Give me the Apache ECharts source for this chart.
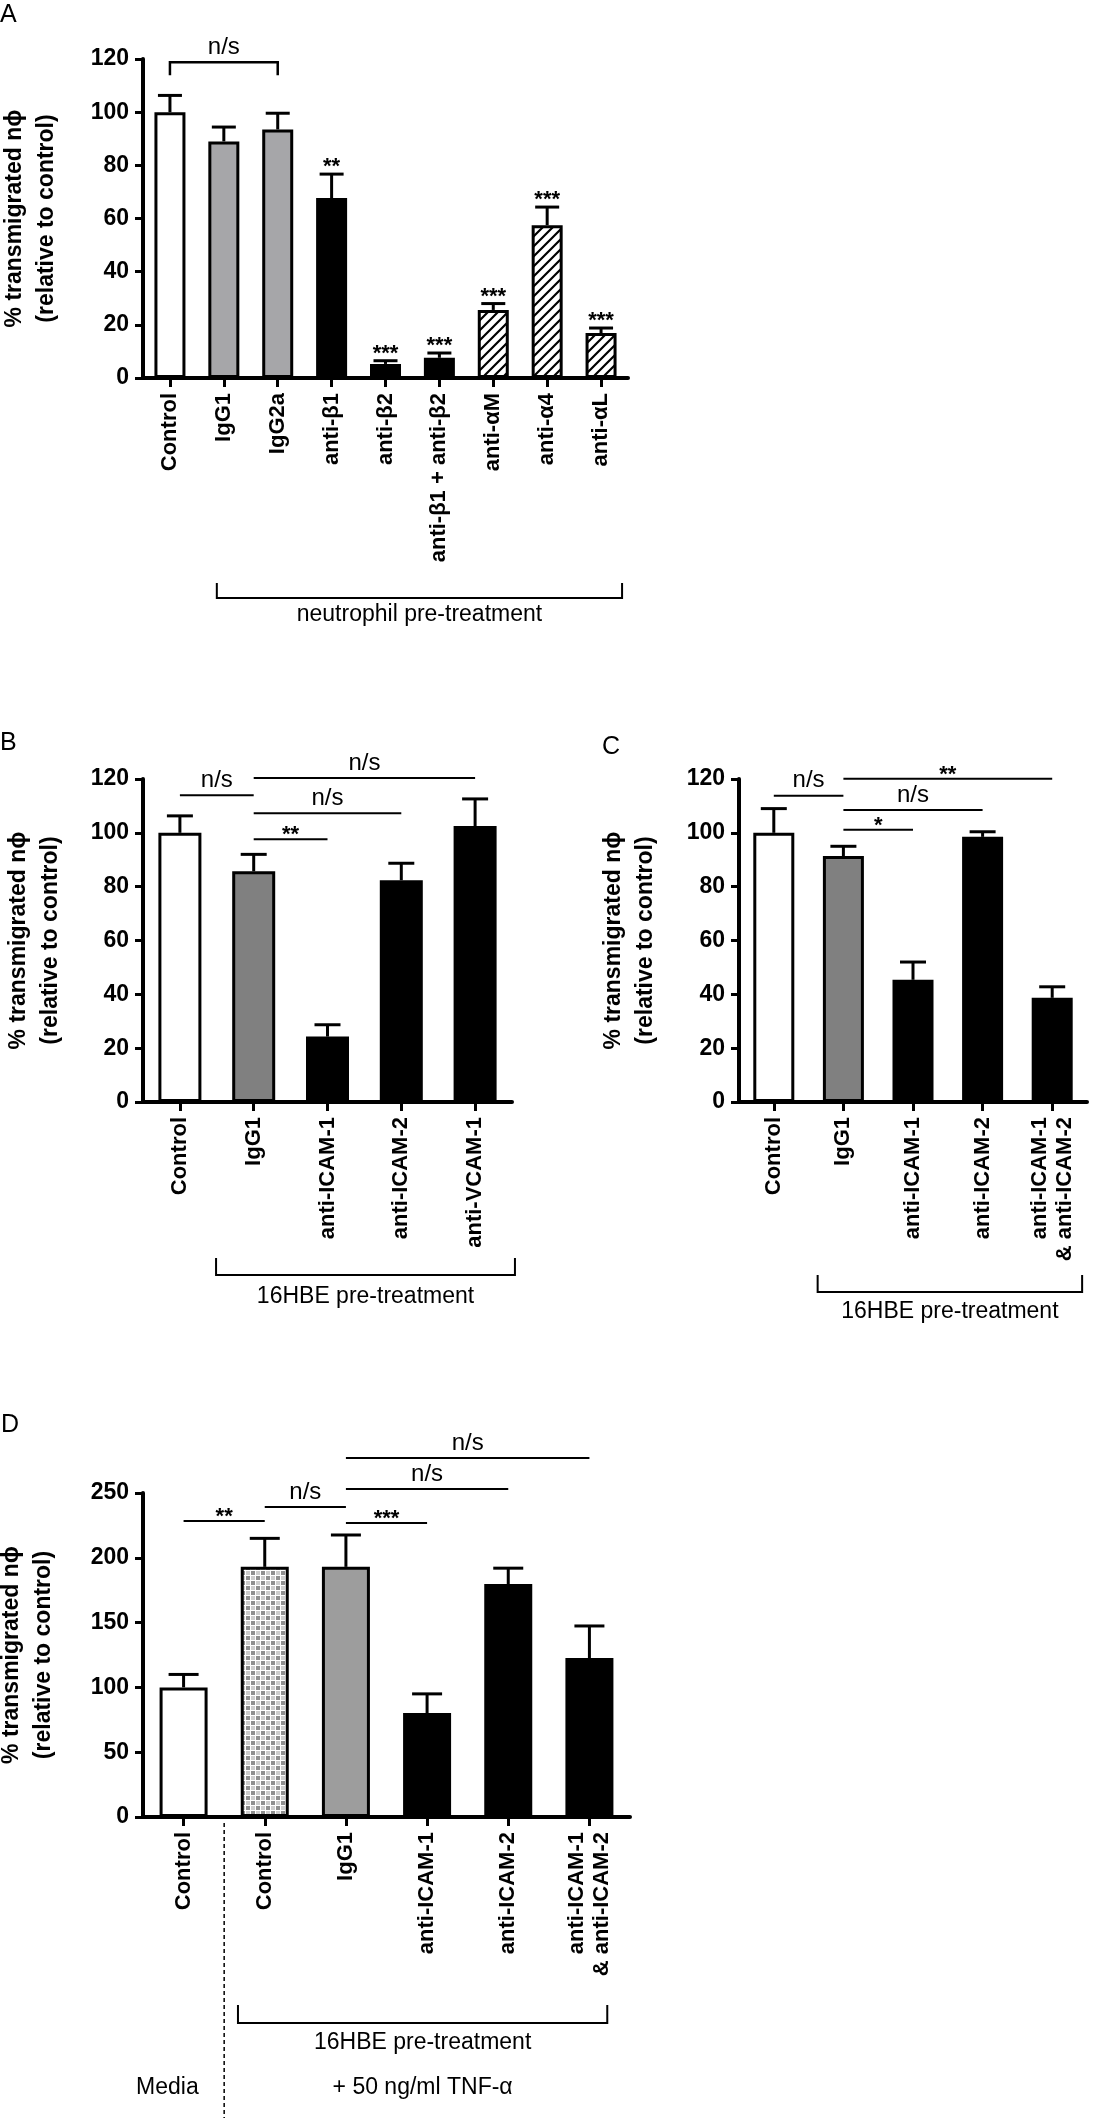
<!DOCTYPE html>
<html><head><meta charset="utf-8">
<script src="https://cdn.jsdelivr.net/npm/echarts@6/dist/echarts.min.js"></script>
<style>html,body{margin:0;padding:0;background:#fff}#c{width:1093px;height:2125px}</style>
</head><body><div id="c"></div>
<script>
// ---------------- DATA ----------------
const catsA = ['Control','IgG1','IgG2a','anti-β1','anti-β2','anti-β1 + anti-β2','anti-αM','anti-α4','anti-αL'];
const meanA = [100, 89, 93.5, 67.7, 5.3, 7.6, 25.6, 57.5, 16.9];
const errA  = [106.3, 94.4, 99.6, 76.7, 6.5, 9.4, 28.0, 64.3, 18.8];
const fillA = ['white','grayA','grayA','black','black','black','hatch','hatch','hatch'];
const starsA = ['', '', '', '**', '***', '***', '***', '***', '***'];
const bracketA = [[0, 2, 118.8]];
const bracketLabelsA = ['n/s'];
const groupA = ['neutrophil pre-treatment', 1, 8];

const catsB = ['Control','IgG1','anti-ICAM-1','anti-ICAM-2','anti-VCAM-1'];
const meanB = [100, 85.7, 24.3, 82.4, 102.5];
const errB  = [106.3, 92.0, 28.7, 88.7, 112.6];
const fillB = ['white','grayB','black','black','black'];
const sigB = [[0,1,114.0],[1,4,120.4],[1,3,107.3],[1,2,97.6]];
const sigLabelsB = ['n/s','n/s','n/s','**'];
const groupB = ['16HBE pre-treatment', 1, 4];

const catsC = ['Control','IgG1','anti-ICAM-1','anti-ICAM-2','anti-ICAM-1\n& anti-ICAM-2'];
const meanC = [100, 91.4, 45.4, 98.5, 38.7];
const errC  = [109.0, 95.0, 52.0, 100.4, 42.8];
const fillC = ['white','grayB','black','black','black'];
const sigC = [[0,1,113.8],[1,4,120.1],[1,3,108.5],[1,2,101.1]];
const sigLabelsC = ['n/s','**','n/s','*'];
const groupC = ['16HBE pre-treatment', 1, 4];

const catsD = ['Control','Control','IgG1','anti-ICAM-1','anti-ICAM-2','anti-ICAM-1\n& anti-ICAM-2'];
const meanD = [100, 193, 193, 80.2, 179.8, 122.7];
const errD  = [110, 215, 217.6, 95, 192, 147.4];
const fillD = ['white','checker','grayD','black','black','black'];
const sigD = [[0,1,228.4],[1,2,239.2],[2,3,226.9],[2,4,253.1],[2,5,277.0]];
const sigLabelsD = ['**','n/s','***','n/s','n/s'];
const groupD = ['16HBE pre-treatment', 1, 5];
const conditionD = ['Media', '+ 50 ng/ml TNF-α'];

const yTitle = '% transmigrated nϕ\n(relative to control)';

// ---------------- STYLE ----------------
const FONT = '"Liberation Sans", Arial, Helvetica, sans-serif';
function makePattern(kind){
  const c = document.createElement('canvas');
  if (kind === 'hatch') {
    c.width = 10; c.height = 10;
    const g = c.getContext('2d');
    g.fillStyle = '#fff'; g.fillRect(0,0,10,10);
    g.strokeStyle = '#000'; g.lineWidth = 2.2;
    g.beginPath();
    g.moveTo(-2,12); g.lineTo(12,-2);
    g.moveTo(-2,2); g.lineTo(2,-2);
    g.moveTo(8,12); g.lineTo(12,8);
    g.stroke();
  } else {
    c.width = 10; c.height = 10;
    const g = c.getContext('2d');
    g.fillStyle = '#ffffff'; g.fillRect(0,0,10,10);
    g.fillStyle = '#8f8f8f'; g.fillRect(1,1,4,4); g.fillRect(6,6,4,4);
    g.fillStyle = '#cdcdcd'; g.fillRect(6,1,4,4); g.fillRect(1,6,4,4);
  }
  return {image: c, repeat: 'repeat'};
}
const FILLS = {
  white: '#ffffff', grayA: '#a6a6a9', grayB: '#808080', grayD: '#9d9d9d', black: '#000000',
  hatch: makePattern('hatch'), checker: makePattern('checker')
};

const LAY = {
  A: {grid:{left:143, top:59, width:485, height:319}, barW:31, cap:24, nameGap:80, extL:-0.13, extR:0.39, drop:220, tick:15, textDrop:237},
  B: {grid:{left:143, top:779, width:369, height:323}, barW:43, cap:26, nameGap:76, extL:-0.51, extR:0.54, drop:173, tick:17, textDrop:195},
  C: {grid:{left:739, top:779, width:348, height:323}, barW:41, cap:26, nameGap:77, extL:-0.37, extR:0.43, drop:190, tick:17, textDrop:210},
  D: {grid:{left:143, top:1493, width:487, height:324}, barW:48, cap:30, nameGap:83, extL:-0.33, extR:0.22, drop:206, tick:18, textDrop:226}
};

// ---------------- RENDERERS ----------------
function errRender(cap){
  return function(params, api){
    const i = api.value(0);
    const p0 = api.coord([i, api.value(1)]);
    const p1 = api.coord([i, api.value(2)]);
    return {type:'group', children:[
      {type:'line', shape:{x1:p0[0], y1:p0[1], x2:p1[0], y2:p1[1]}, style:{stroke:'#000', lineWidth:3}},
      {type:'line', shape:{x1:p1[0]-cap/2, y1:p1[1], x2:p1[0]+cap/2, y2:p1[1]}, style:{stroke:'#000', lineWidth:3}}
    ]};
  };
}
function starRender(labels){
  return function(params, api){
    const p = api.coord([api.value(0), api.value(1)]);
    return {type:'text', style:{text: labels[params.dataIndex], x:p[0], y:p[1]-7, align:'center', verticalAlign:'middle',
      font:'bold 22px ' + FONT, fill:'#000'}};
  };
}
function sigRender(labels, withTicks){
  return function(params, api){
    const y = api.value(2);
    const a = api.coord([api.value(0), y]);
    const b = api.coord([api.value(1), y]);
    const lab = labels[params.dataIndex];
    const star = lab.indexOf('*') >= 0;
    const children = [];
    if (withTicks) {
      children.push({type:'polyline', shape:{points:[[a[0],a[1]+13],[a[0],a[1]],[b[0],b[1]],[b[0],b[1]+13]]},
        style:{stroke:'#000', lineWidth:2.5, fill:null}});
    } else {
      children.push({type:'line', shape:{x1:a[0], y1:a[1], x2:b[0], y2:b[1]}, style:{stroke:'#000', lineWidth:2}});
    }
    children.push({type:'text', style:{text:lab, x:(a[0]+b[0])/2, y: star ? a[1]-4 : a[1]-15,
      align:'center', verticalAlign:'middle', font:(star ? 'bold 22px ' : '24px ') + FONT, fill:'#000'}});
    return {type:'group', children};
  };
}
function groupRender(label, lay){
  return function(params, api){
    const band = api.size([1,0])[0];
    const a = api.coord([api.value(0), 0]);
    const b = api.coord([api.value(1), 0]);
    const x1 = a[0] + lay.extL*band, x2 = b[0] + lay.extR*band;
    const yb = a[1] + lay.drop, yt = yb - lay.tick;
    return {type:'group', children:[
      {type:'polyline', shape:{points:[[x1,yt],[x1,yb],[x2,yb],[x2,yt]]}, style:{stroke:'#000', lineWidth:2, fill:null}},
      {type:'text', style:{text:label, x:(x1+x2)/2, y:a[1]+lay.textDrop, align:'center', verticalAlign:'middle',
        font:'23px ' + FONT, fill:'#000'}}
    ]};
  };
}
function conditionRender(labels, lay){
  return function(params, api){
    const band = api.size([1,0])[0];
    const p0 = api.coord([0, 0]);
    const p1 = api.coord([1, 0]);
    const pe = api.coord([api.value(1), 0]);
    const xm = (p0[0] + p1[0]) / 2;
    const bx1 = p1[0] + lay.extL*band, bx2 = pe[0] + lay.extR*band;
    const ty = p0[1] + 271;
    return {type:'group', children:[
      {type:'line', shape:{x1:xm, y1:p0[1]+6, x2:xm, y2:p0[1]+301}, style:{stroke:'#000', lineWidth:1.5, lineDash:[4,3]}},
      {type:'text', style:{text:labels[0], x:p0[0]-0.2*band, y:ty, align:'center', verticalAlign:'middle', font:'23px ' + FONT, fill:'#000'}},
      {type:'text', style:{text:labels[1], x:(bx1+bx2)/2, y:ty, align:'center', verticalAlign:'middle', font:'23px ' + FONT, fill:'#000'}}
    ]};
  };
}

// ---------------- BUILD ----------------
const panels = [
  {key:'A', cats:catsA, mean:meanA, err:errA, fill:fillA, max:120, interval:20},
  {key:'B', cats:catsB, mean:meanB, err:errB, fill:fillB, max:120, interval:20},
  {key:'C', cats:catsC, mean:meanC, err:errC, fill:fillC, max:120, interval:20},
  {key:'D', cats:catsD, mean:meanD, err:errD, fill:fillD, max:250, interval:50}
];
const grids = [], xAxes = [], yAxes = [], series = [];
panels.forEach((p, k) => {
  const lay = LAY[p.key];
  grids.push(Object.assign({containLabel:false, outerBoundsMode:'none'}, lay.grid));
  xAxes.push({type:'category', gridIndex:k, data:p.cats,
    axisLine:{show:true, lineStyle:{color:'#000', width:4}},
    axisTick:{show:true, alignWithLabel:true, length:9, lineStyle:{color:'#000', width:3}},
    axisLabel:{interval:0, rotate:90, margin:15, color:'#000', fontFamily:FONT, fontSize:22, fontWeight:'bold', lineHeight:25},
    splitLine:{show:false}});
  yAxes.push({type:'value', gridIndex:k, min:0, max:p.max, interval:p.interval,
    name:yTitle, nameLocation:'middle', nameGap:lay.nameGap, nameRotate:90,
    nameTextStyle:{color:'#000', fontFamily:FONT, fontSize:23, fontWeight:'bold', lineHeight:32},
    axisLine:{show:true, lineStyle:{color:'#000', width:4}},
    axisTick:{show:true, length:8, lineStyle:{color:'#000', width:3}},
    axisLabel:{margin:14, color:'#000', fontFamily:FONT, fontSize:23, fontWeight:'bold'},
    splitLine:{show:false}});
  series.push({type:'bar', xAxisIndex:k, yAxisIndex:k, barWidth:lay.barW, z:2,
    itemStyle:{borderColor:'#000', borderWidth:3},
    data:p.mean.map((v,i)=>({value:v, itemStyle:{color:FILLS[p.fill[i]], borderColor:'#000', borderWidth:3}}))});
  series.push({type:'custom', xAxisIndex:k, yAxisIndex:k, z:3, clip:false,
    data:p.mean.map((v,i)=>[i, v, p.err[i]]), encode:{x:0, y:[1,2]}, renderItem:errRender(lay.cap)});
});
// stars and bracket panel A
series.push({type:'custom', xAxisIndex:0, yAxisIndex:0, z:4, clip:false,
  data:errA.map((e,i)=>[i, e]), encode:{x:0, y:1}, renderItem:starRender(starsA)});
series.push({type:'custom', xAxisIndex:0, yAxisIndex:0, z:4, clip:false,
  data:bracketA, encode:{x:[0,1], y:2}, renderItem:sigRender(bracketLabelsA, true)});
// significance lines B, C, D
[[1, sigB, sigLabelsB],[2, sigC, sigLabelsC],[3, sigD, sigLabelsD]].forEach(([k, d, l]) => {
  series.push({type:'custom', xAxisIndex:k, yAxisIndex:k, z:4, clip:false,
    data:d, encode:{x:[0,1], y:2}, renderItem:sigRender(l, false)});
});
// treatment group brackets
[[0, groupA, LAY.A],[1, groupB, LAY.B],[2, groupC, LAY.C],[3, groupD, LAY.D]].forEach(([k, g, lay]) => {
  series.push({type:'custom', xAxisIndex:k, yAxisIndex:k, z:4, clip:false,
    data:[[g[1], g[2]]], encode:{x:[0,1]}, renderItem:groupRender(g[0], lay)});
});
series.push({type:'custom', xAxisIndex:3, yAxisIndex:3, z:4, clip:false,
  data:[[groupD[1], groupD[2]]], encode:{x:[0,1]}, renderItem:conditionRender(conditionD, LAY.D)});

const letterStyle = {color:'#000', fontFamily:FONT, fontSize:25, fontWeight:'normal'};
const option = {
  animation:false,
  backgroundColor:'#fff',
  title:[
    {text:'A', left:0, top:3, padding:0, textStyle:letterStyle},
    {text:'B', left:0, top:731, padding:0, textStyle:letterStyle},
    {text:'C', left:602, top:735, padding:0, textStyle:letterStyle},
    {text:'D', left:1, top:1413, padding:0, textStyle:letterStyle}
  ],
  grid:grids, xAxis:xAxes, yAxis:yAxes, series:series
};
const chart = echarts.init(document.getElementById('c'), null, {renderer:'canvas'});
chart.setOption(option);
</script></body></html>
